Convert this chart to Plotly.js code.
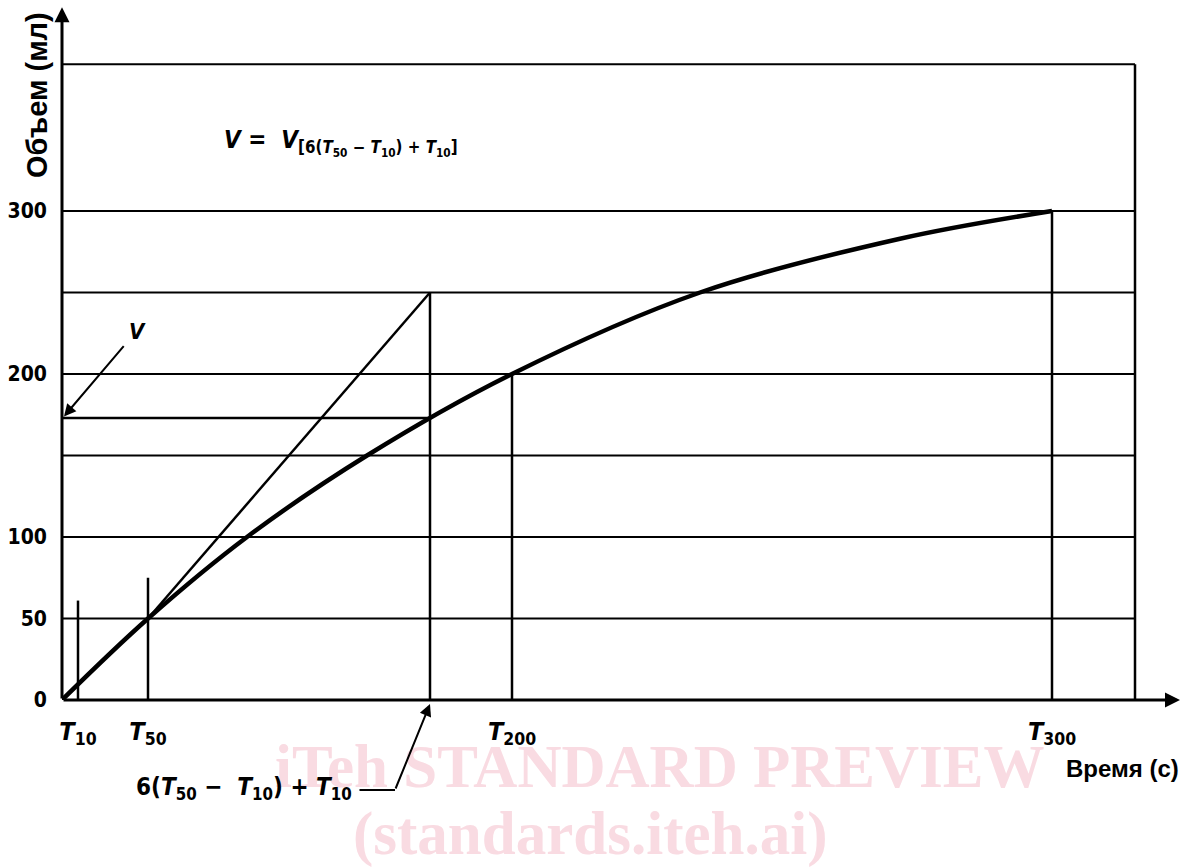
<!DOCTYPE html>
<html>
<head>
<meta charset="utf-8">
<script src="https://cdn.plot.ly/plotly-3.0.1.min.js"></script>
<style>
html,body{margin:0;padding:0;background:#fff;}
#chart{width:1184px;height:867px;}
</style>
</head>
<body>
<div id="chart"></div>
<script>
// ---- data ----
var curveTime   = [0, 86, 185, 305, 450, 638, 838, 990];
var curveVolume = [0, 50, 100, 150, 200, 250, 283, 300];

var tangentTime   = [86, 368];
var tangentVolume = [50, 250];

var gridLevels = [50, 100, 150, 200, 250, 300, 390];
var gridEnd = 1073;

var markTime   = [16, 86, 368, 450, 990, 1073];
var markHeight = [61, 75, 250, 200, 300, 390];

var vLevel = 173;
var vEnd = 368;

var yTickVals = [0, 50, 100, 200, 300];
var yTickText = ['0', '50', '100', '200', '300'];
var xTickVals = [16, 86, 450, 990];
var xTickText = ['<i>T</i><sub>10</sub>', '<i>T</i><sub>50</sub>', '<i>T</i><sub>200</sub>', '<i>T</i><sub>300</sub>'];

var xMax = 1122, yMax = 429.45;
var FONT = 'Liberation Sans Narrow, DejaVu Sans Condensed, Arial Narrow, sans-serif';

// ---- build traces ----
var gx = [], gy = [];
gridLevels.forEach(function(v){ gx.push(0, gridEnd, null); gy.push(v, v, null); });
var mx = [], my = [];
markTime.forEach(function(t, i){ mx.push(t, t, null); my.push(0, markHeight[i], null); });

var traces = [
  {x: gx, y: gy, mode: 'lines', line: {color: '#000', width: 2}, hoverinfo: 'skip'},
  {x: mx, y: my, mode: 'lines', line: {color: '#000', width: 2.5}, hoverinfo: 'skip'},
  {x: [0, vEnd], y: [vLevel, vLevel], mode: 'lines', line: {color: '#000', width: 2.5}, hoverinfo: 'skip'},
  {x: tangentTime, y: tangentVolume, mode: 'lines', line: {color: '#000', width: 2.5}, hoverinfo: 'skip'},
  {x: curveTime, y: curveVolume, mode: 'lines', line: {color: '#000', width: 4.5, shape: 'spline', smoothing: 1}, hoverinfo: 'skip'}
];

// paper coords relative to plot area (x: 62..1184 px, y: 0..700 px)
function px2x(px){ return (px - 62) / 1122; }
function py2y(py){ return (700 - py) / 700; }

var wm = '#f9dbe2';
var annotations = [
  // watermark
  {xref: 'paper', yref: 'paper', x: px2x(659), y: py2y(766), xanchor: 'center', yanchor: 'middle', text: 'iTeh STANDARD PREVIEW', showarrow: false,
   font: {family: 'Liberation Serif, DejaVu Serif, serif', size: 61, color: wm, weight: 'bold'}},
  {xref: 'paper', yref: 'paper', x: px2x(590), y: py2y(834), xanchor: 'center', yanchor: 'middle', text: '(standards.iteh.ai)', showarrow: false,
   font: {family: 'Liberation Serif, DejaVu Serif, serif', size: 61, color: wm, weight: 'bold'}},
  // axes arrows
  {x: 1118, y: 0, ax: 0, ay: 0, axref: 'x', ayref: 'y', text: '', showarrow: true, arrowhead: 2, arrowsize: 1, arrowwidth: 3, arrowcolor: '#000'},
  {x: 0, y: 425, ax: 0, ay: 0, axref: 'x', ayref: 'y', text: '', showarrow: true, arrowhead: 2, arrowsize: 1, arrowwidth: 3, arrowcolor: '#000'},
  // V arrow
  {x: 2, y: 174, ax: 63, ay: 218, axref: 'x', ayref: 'y', text: '', showarrow: true, arrowhead: 2, arrowsize: 1.2, arrowwidth: 2, arrowcolor: '#000'},
  {x: 75, y: 226, text: '<i>V</i>', showarrow: false, xanchor: 'center', yanchor: 'middle',
   font: {family: FONT, size: 22, color: '#000', weight: 'bold'}},
  // formula
  {x: 160, y: 341.5, xanchor: 'left', yanchor: 'middle', text: '<i>V</i> =  <i>V</i><sub>[6(<i>T</i><sub>50</sub> − <i>T</i><sub>10</sub>) + <i>T</i><sub>10</sub>]</sub>', showarrow: false,
   font: {family: FONT, size: 24, color: '#000', weight: 'bold'}},
  // bottom leader (tip at the 6(T50-T10)+T10 mark on the time axis)
  {xref: 'x', yref: 'paper', x: 333, y: py2y(790), ax: -37, ay: 0, text: '', showarrow: true, arrowhead: 0, arrowwidth: 2, arrowcolor: '#000'},
  {xref: 'x', yref: 'paper', x: 368, y: py2y(704), ax: -35, ay: 86, text: '', showarrow: true, arrowhead: 2, arrowsize: 1.2, arrowwidth: 2, arrowcolor: '#000'},
  {xref: 'x', yref: 'paper', x: 292, y: py2y(788), xanchor: 'right', yanchor: 'middle', text: '6(<i>T</i><sub>50</sub> −  <i>T</i><sub>10</sub>) + <i>T</i><sub>10</sub>', showarrow: false,
   font: {family: FONT, size: 24, color: '#000', weight: 'bold'}},
  // axis titles
  {xref: 'paper', yref: 'paper', x: px2x(37), y: py2y(95), xanchor: 'center', yanchor: 'middle', text: 'Объем (мл)', textangle: -90, showarrow: false,
   font: {family: 'Liberation Sans, Arial, sans-serif', size: 29, color: '#000', weight: 'bold'}},
  {xref: 'paper', yref: 'paper', x: px2x(1181), y: py2y(768), xanchor: 'right', yanchor: 'middle', text: 'Время (с)', showarrow: false,
   font: {family: 'Liberation Sans, Arial, sans-serif', size: 24, color: '#000', weight: 'bold'}}
];

var layout = {
  width: 1184, height: 867,
  margin: {l: 62, r: 0, t: 0, b: 167},
  paper_bgcolor: '#fff', plot_bgcolor: 'rgba(0,0,0,0)',
  showlegend: false,
  xaxis: {range: [0, xMax], showgrid: false, zeroline: false, showline: false,
          tickmode: 'array', tickvals: xTickVals, ticktext: xTickText, ticks: '',
          ticklabelstandoff: 14,
          tickfont: {family: FONT, size: 25, color: '#000', weight: 'bold'}},
  yaxis: {range: [0, yMax], showgrid: false, zeroline: false, showline: false,
          tickmode: 'array', tickvals: yTickVals, ticktext: yTickText, ticks: '',
          ticklabelstandoff: 14,
          tickfont: {family: FONT, size: 21, color: '#000', weight: 'bold'}},
  annotations: annotations
};

Plotly.newPlot('chart', traces, layout, {displayModeBar: false, staticPlot: true});
</script>
</body>
</html>
